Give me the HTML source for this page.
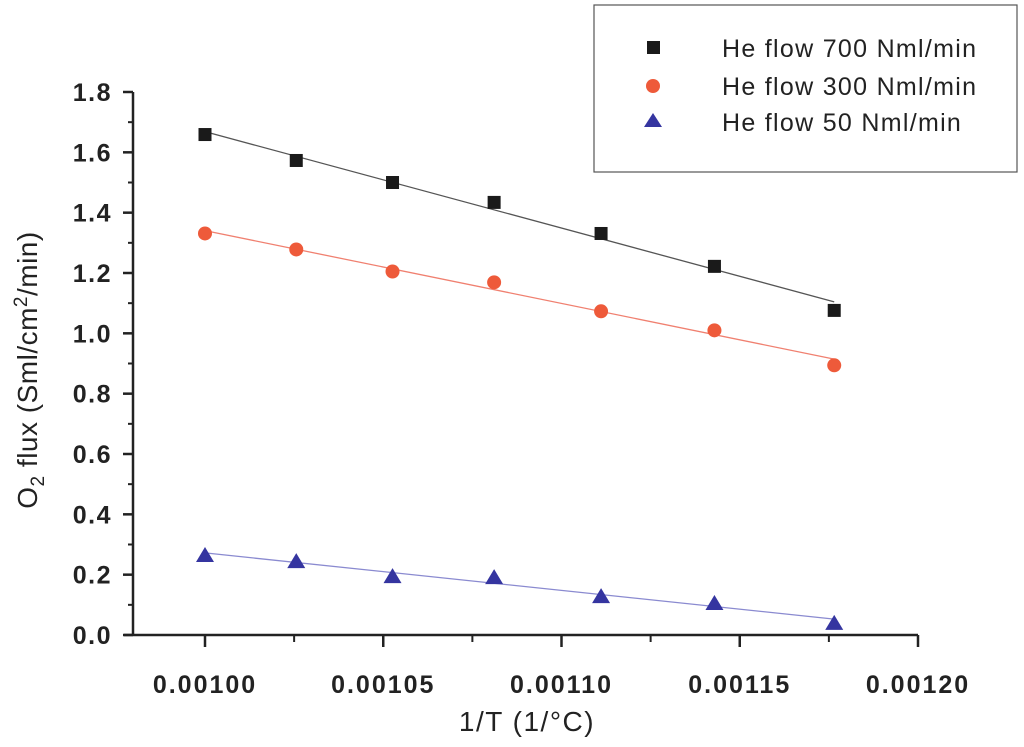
<!DOCTYPE html>
<html><head><meta charset="utf-8"><style>
body{margin:0;background:#fff;}
svg{display:block;font-family:"Liberation Sans",sans-serif;}
</style></head><body>
<svg id="chart" width="1024" height="747" viewBox="0 0 1024 747">
<g id="axes"></g>
<g id="plot"></g>
<g>
<rect x="594" y="5" width="423" height="167" fill="#fff" stroke="#555" stroke-width="1.2"/>
<g><rect x="647" y="41" width="13" height="13" fill="#1a1a1a"/><text x="722" y="57" font-size="25" letter-spacing="1.3" fill="#222">He flow 700 Nml/min</text></g>
<g><circle cx="653" cy="86" r="7" fill="#ee5a3a"/><text x="722" y="95" font-size="25" letter-spacing="1.3" fill="#222">He flow 300 Nml/min</text></g>
<g><polygon points="653,113 662,127 644,127" fill="#3535a0"/><text x="722" y="131" font-size="25" letter-spacing="1.3" fill="#222">He flow 50 Nml/min</text></g>
</g>
<text x="527" y="731" font-size="28" letter-spacing="1.5" fill="#222" text-anchor="middle">1/T (1/°C)</text>
<text transform="translate(37,370) rotate(-90)" font-size="28" letter-spacing="0.5" fill="#222" text-anchor="middle">O<tspan font-size="19" dy="7">2</tspan><tspan dy="-7"> flux (Sml/cm</tspan><tspan font-size="19" dy="-10">2</tspan><tspan dy="10">/min)</tspan></text>
</svg>
<script>
const xVals=[0.0010000,0.0010256,0.0010526,0.0010811,0.0011111,0.0011429,0.0011765];
const flow700=[1.659,1.573,1.500,1.434,1.331,1.222,1.076];
const flow300=[1.331,1.278,1.205,1.169,1.073,1.010,0.894];
const flow50=[0.265,0.245,0.195,0.192,0.129,0.106,0.040];
const xTicks=[0.00100,0.00105,0.00110,0.00115,0.00120];
const xTickLabels=["0.00100","0.00105","0.00110","0.00115","0.00120"];
const yTicks=[0,0.2,0.4,0.6,0.8,1.0,1.2,1.4,1.6,1.8];
const yTickLabels=["0.0","0.2","0.4","0.6","0.8","1.0","1.2","1.4","1.6","1.8"];
const NS="http://www.w3.org/2000/svg";
const X=v=>205+(v-0.001)/0.0002*713;
const Y=v=>635-v/1.8*543;
function mk(tag,at,parent){const e=document.createElementNS(NS,tag);for(const k in at)e.setAttribute(k,at[k]);parent.appendChild(e);return e;}
const ax=document.getElementById('axes'),pl=document.getElementById('plot');
let l=mk('line',{x1:133,y1:Y(1.8),x2:133,y2:636,stroke:'#222','stroke-width':2.5},ax);


l=mk('line',{x1:124,y1:635,x2:918,y2:635,stroke:'#222','stroke-width':2.5},ax);


yTicks.forEach((v,i)=>{
 mk('line',{x1:123,y1:Y(v),x2:133,y2:Y(v),stroke:'#222','stroke-width':2.5},ax);
 if(i<yTicks.length-1)mk('line',{x1:128,y1:Y(v+0.1),x2:133,y2:Y(v+0.1),stroke:'#222','stroke-width':2},ax);
 const t=mk('text',{x:112,y:Y(v)+9,'font-size':25,'font-weight':'bold','letter-spacing':1.5,'text-anchor':'end',fill:'#222'},ax);
 t.textContent=yTickLabels[i];
 
 
});
xTicks.forEach((v,i)=>{
 mk('line',{x1:X(v),y1:635,x2:X(v),y2:647,stroke:'#222','stroke-width':2.5},ax);
 if(i<xTicks.length-1)mk('line',{x1:X(v+0.000025),y1:635,x2:X(v+0.000025),y2:642,stroke:'#222','stroke-width':2},ax);
 const t=mk('text',{x:X(v),y:693,'font-size':25,'font-weight':'bold','letter-spacing':2,'text-anchor':'middle',fill:'#222'},ax);
 t.textContent=xTickLabels[i];
 
 
});
function fit(ys){const n=xVals.length,mx=xVals.reduce((a,b)=>a+b)/n,my=ys.reduce((a,b)=>a+b)/n;let sxy=0,sxx=0;for(let i=0;i<n;i++){sxy+=(xVals[i]-mx)*(ys[i]-my);sxx+=(xVals[i]-mx)**2;}const b=sxy/sxx;return x=>my+b*(x-mx);}
const series=[[flow700,'#555','#1a1a1a','square','700'],[flow300,'#f08070','#ee5a3a','circle','300'],[flow50,'#8a8ad0','#3535a0','tri','50']];
series.forEach(([ys,lc,mc,shape,name])=>{
 const f=fit(ys),x0=xVals[0],x1=xVals[xVals.length-1];
 const ln=mk('line',{x1:X(x0),y1:Y(f(x0)),x2:X(x1),y2:Y(f(x1)),stroke:lc,'stroke-width':1.3},pl);
 
 
 ys.forEach((v,i)=>{
  const cx=X(xVals[i]),cy=Y(v);let m;
  if(shape==='square')m=mk('rect',{x:cx-6.5,y:cy-6.5,width:13,height:13,fill:mc},pl);
  else if(shape==='circle')m=mk('circle',{cx:cx,cy:cy,r:7,fill:mc},pl);
  else m=mk('polygon',{points:`${cx},${cy-8} ${cx+9},${cy+7} ${cx-9},${cy+7}`,fill:mc},pl);
  
  
 });
});
</script>
</body></html>
